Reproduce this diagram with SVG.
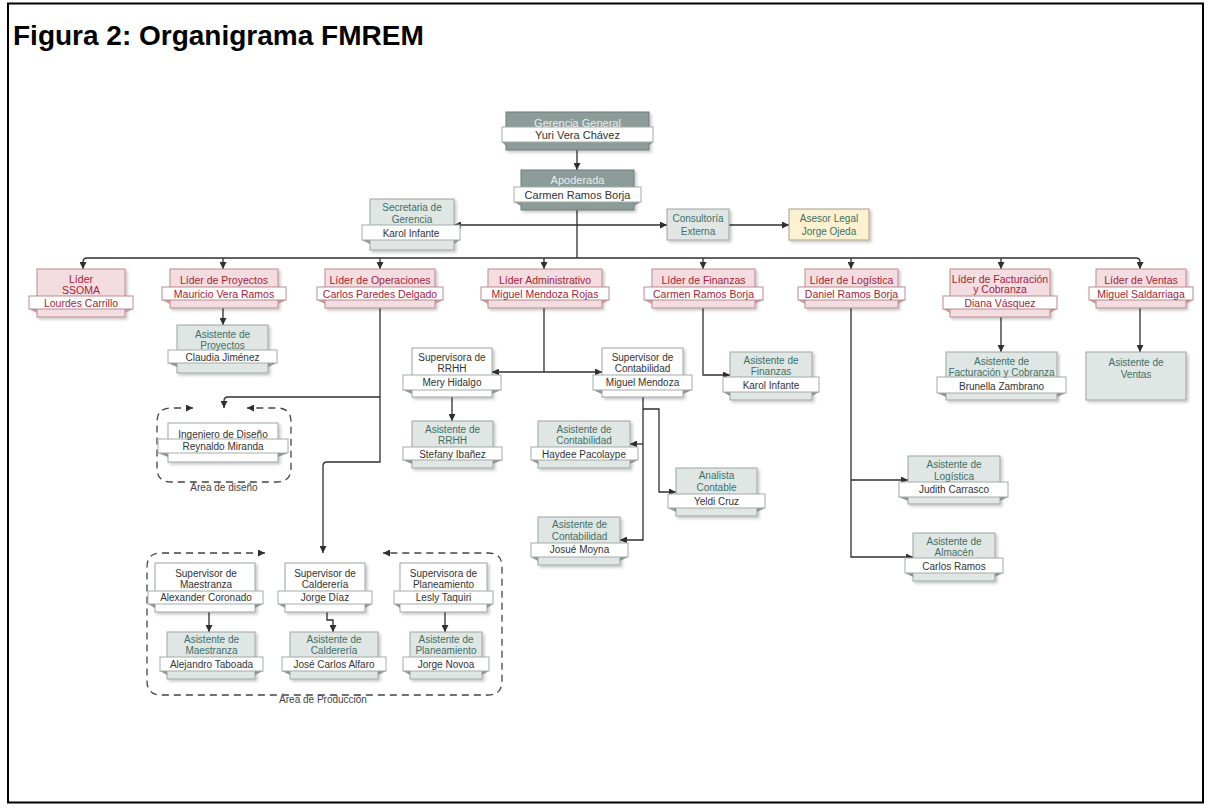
<svg xmlns="http://www.w3.org/2000/svg" width="1208" height="808" viewBox="0 0 1208 808">
<defs>
<style>
text{font-family:"Liberation Sans",Arial,sans-serif;font-size:10px;text-anchor:middle;fill:#333}
.title{font-size:28px;font-weight:bold;text-anchor:start;fill:#000}
.box{stroke-width:1;filter:url(#sh)}
.ban{fill:#fff;stroke:#a3aca8;stroke-width:1}
.fold{fill:#8e9592}
.top .box{fill:#8c9c98;stroke:#6e7d79}
.top .h{fill:#e8eeec;font-size:11px}
.top .n{font-size:11px}
.lead .box{fill:#f4dde0;stroke:#b98a90}
.lead .ban{stroke:#b98a90}
.lead .fold{fill:#c79aa0}
.lead text{fill:#a3243a;font-size:10.5px}
.asst .box{fill:#dfe6e3;stroke:#9ca6a2}
.asst .h{fill:#3e7068}
.sup .box{fill:#fff;stroke:#9ca6a2}
.legal .box{fill:#fcf1d0;stroke:#aaa088}
.legal .h{fill:#3e7068}
.lbl{fill:#444}
.con{fill:none;stroke:#2f2f2f;stroke-width:1.3}
.dash{fill:none;stroke:#444;stroke-width:1.3;stroke-dasharray:7 5}
</style>
<filter id="sh" x="-10%" y="-10%" width="130%" height="140%">
<feDropShadow dx="2" dy="2" stdDeviation="1.5" flood-color="#000" flood-opacity="0.22"/>
</filter>
<marker id="ar" viewBox="0 0 10 10" refX="10" refY="5" markerWidth="7" markerHeight="7" markerUnits="userSpaceOnUse" orient="auto-start-reverse">
<path d="M0,0 L10,5 L0,10 z" fill="#2f2f2f"/>
</marker>
</defs>

<rect x="8" y="3.5" width="1195" height="799" fill="#fff" stroke="#000" stroke-width="2"/>
<text class="title" x="13" y="45">Figura 2: Organigrama FMREM</text>

<g id="connectors" class="con">
<path d="M577,150 V170" marker-end="url(#ar)"/>
<path d="M577,210 V258"/>
<path d="M577,225 H454" marker-end="url(#ar)"/>
<path d="M577,225 H667" marker-end="url(#ar)"/>
<path d="M729,225 H789" marker-end="url(#ar)"/>
<path d="M83,269 V262 Q83,258 87,258 H1136 Q1140,258 1140,262 V269" marker-start="url(#ar)" marker-end="url(#ar)"/>
<path d="M223,258 V269" marker-end="url(#ar)"/>
<path d="M380,258 V269" marker-end="url(#ar)"/>
<path d="M544,258 V269" marker-end="url(#ar)"/>
<path d="M703,258 V269" marker-end="url(#ar)"/>
<path d="M851,258 V269" marker-end="url(#ar)"/>
<path d="M1001,258 V269" marker-end="url(#ar)"/>
<path d="M223,308 V325" marker-end="url(#ar)"/>
<path d="M380,308 V462 H327 Q323,462 323,466 V553" marker-end="url(#ar)"/>
<path d="M380,397 H228 Q224,397 224,401 V408" marker-end="url(#ar)"/>
<path d="M544,308 V372"/>
<path d="M544,372 H492" marker-end="url(#ar)"/>
<path d="M544,372 H602" marker-end="url(#ar)"/>
<path d="M452,397 V421" marker-end="url(#ar)"/>
<path d="M643,397 V540 H620" marker-end="url(#ar)"/>
<path d="M643,444 H630" marker-end="url(#ar)"/>
<path d="M643,409 H659 V492 H676" marker-end="url(#ar)"/>
<path d="M703,308 V375 H730" marker-end="url(#ar)"/>
<path d="M851,308 V557 H913" marker-end="url(#ar)"/>
<path d="M851,480 H908" marker-end="url(#ar)"/>
<path d="M1001,317 V352" marker-end="url(#ar)"/>
<path d="M1140,308 V352" marker-end="url(#ar)"/>
<path d="M209,612 V632" marker-end="url(#ar)"/>
<path d="M327,612 V620 H333 V632" marker-end="url(#ar)"/>
<path d="M445,612 V632" marker-end="url(#ar)"/>
</g>

<g id="areas">
<path class="dash" d="M193,408 H171 Q157,408 157,422 V468 Q157,482 171,482 H277 Q291,482 291,468 V422 Q291,408 277,408 H247" marker-start="url(#ar)" marker-end="url(#ar)"/>
<text class="lbl" x="224" y="491">Área de diseño</text>
<path class="dash" d="M265,553 H161 Q147,553 147,567 V681 Q147,695 161,695 H488 Q502,695 502,681 V567 Q502,553 488,553 H383" marker-start="url(#ar)" marker-end="url(#ar)"/>
<text class="lbl" x="323" y="703">Área de Producción</text>
</g>

<g id="gerencia" class="top">
<rect class="box" x="506" y="112" width="143" height="38"/>
<polygon class="fold" points="502,142 506,142 506,146"/><polygon class="fold" points="653,142 649,142 649,146"/>
<rect class="ban" x="502" y="127" width="151" height="15"/>
<text class="h" x="577.5" y="126.5">Gerencia General</text>
<text class="n" x="577.5" y="138.5">Yuri Vera Chávez</text>
</g>

<g id="apoderada" class="top">
<rect class="box" x="521" y="170" width="113" height="40"/>
<polygon class="fold" points="514,202 521,202 521,206"/><polygon class="fold" points="641,202 634,202 634,206"/>
<rect class="ban" x="514" y="187" width="127" height="15"/>
<text class="h" x="577.5" y="184">Apoderada</text>
<text class="n" x="577.5" y="198.5">Carmen Ramos Borja</text>
</g>

<g id="secretaria" class="asst">
<rect class="box" x="370" y="199" width="84" height="51"/>
<polygon class="fold" points="362,240 370,240 370,244"/><polygon class="fold" points="460,240 454,240 454,244"/>
<rect class="ban" x="362" y="225" width="98" height="15"/>
<text class="h" x="412" y="211">Secretaria de</text>
<text class="h" x="412" y="223">Gerencia</text>
<text class="n" x="411" y="236.5">Karol Infante</text>
</g>

<g id="consultoria" class="asst">
<rect class="box" x="667" y="209" width="62" height="31"/>
<text class="h" x="698" y="221.5">Consultoría</text>
<text class="h" x="698" y="234.5">Externa</text>
</g>

<g id="asesor" class="legal">
<rect class="box" x="789" y="209" width="80" height="31"/>
<text class="h" x="829" y="221.5">Asesor Legal</text>
<text class="h" x="829" y="234.5">Jorge Ojeda</text>
</g>

<g id="lider-ssoma" class="lead">
<rect class="box" x="37" y="269" width="88" height="48"/>
<polygon class="fold" points="29,309 37,309 37,313"/><polygon class="fold" points="133,309 125,309 125,313"/>
<rect class="ban" x="29" y="296" width="104" height="13"/>
<text class="h" x="81" y="282.5">Líder</text>
<text class="h" x="81" y="293.5">SSOMA</text>
<text class="n" x="81" y="306.5">Lourdes Carrillo</text>
</g>

<g id="lider-proyectos" class="lead">
<rect class="box" x="170" y="269" width="108" height="39"/>
<polygon class="fold" points="162,300 170,300 170,304"/><polygon class="fold" points="286,300 278,300 278,304"/>
<rect class="ban" x="162" y="287" width="124" height="13"/>
<text class="h" x="224" y="284">Líder de Proyectos</text>
<text class="n" x="224" y="297.5">Mauricio Vera Ramos</text>
</g>

<g id="lider-operaciones" class="lead">
<rect class="box" x="325" y="269" width="110" height="39"/>
<polygon class="fold" points="317,300 325,300 325,304"/><polygon class="fold" points="443,300 435,300 435,304"/>
<rect class="ban" x="317" y="287" width="126" height="13"/>
<text class="h" x="380" y="284">Líder de Operaciones</text>
<text class="n" x="380" y="297.5">Carlos Paredes Delgado</text>
</g>

<g id="lider-administrativo" class="lead">
<rect class="box" x="488" y="269" width="114" height="39"/>
<polygon class="fold" points="481,300 488,300 488,304"/><polygon class="fold" points="609,300 602,300 602,304"/>
<rect class="ban" x="481" y="287" width="128" height="13"/>
<text class="h" x="545" y="284">Líder Administrativo</text>
<text class="n" x="545" y="297.5">Miguel Mendoza Rojas</text>
</g>

<g id="lider-finanzas" class="lead">
<rect class="box" x="652" y="269" width="103" height="39"/>
<polygon class="fold" points="644,300 652,300 652,304"/><polygon class="fold" points="763,300 755,300 755,304"/>
<rect class="ban" x="644" y="287" width="119" height="13"/>
<text class="h" x="703.5" y="284">Líder de Finanzas</text>
<text class="n" x="703.5" y="297.5">Carmen Ramos Borja</text>
</g>

<g id="lider-logistica" class="lead">
<rect class="box" x="805" y="269" width="93" height="39"/>
<polygon class="fold" points="798,300 805,300 805,304"/><polygon class="fold" points="905,300 898,300 898,304"/>
<rect class="ban" x="798" y="287" width="107" height="13"/>
<text class="h" x="851.5" y="284">Líder de Logística</text>
<text class="n" x="851.5" y="297.5">Daniel Ramos Borja</text>
</g>

<g id="lider-facturacion" class="lead">
<rect class="box" x="950" y="269" width="100" height="48"/>
<polygon class="fold" points="943,309 950,309 950,313"/><polygon class="fold" points="1057,309 1050,309 1050,313"/>
<rect class="ban" x="943" y="296" width="114" height="13"/>
<text class="h" x="1000" y="282.5">Líder de Facturación</text>
<text class="h" x="1000" y="293">y Cobranza</text>
<text class="n" x="1000" y="306.5">Diana Vásquez</text>
</g>

<g id="lider-ventas" class="lead">
<rect class="box" x="1096" y="269" width="90" height="39"/>
<polygon class="fold" points="1089,300 1096,300 1096,304"/><polygon class="fold" points="1193,300 1186,300 1186,304"/>
<rect class="ban" x="1089" y="287" width="104" height="13"/>
<text class="h" x="1141" y="284">Líder de Ventas</text>
<text class="n" x="1141" y="297.5">Miguel Saldarriaga</text>
</g>

<g id="asist-proyectos" class="asst">
<rect class="box" x="177" y="325" width="91" height="48"/>
<polygon class="fold" points="168,363 177,363 177,367"/><polygon class="fold" points="277,363 268,363 268,367"/>
<rect class="ban" x="168" y="350" width="109" height="13"/>
<text class="h" x="222.5" y="337.5">Asistente de</text>
<text class="h" x="222.5" y="348.5">Proyectos</text>
<text class="n" x="222.5" y="360.5">Claudia Jiménez</text>
</g>

<g id="ing-diseno" class="sup">
<rect class="box" x="168" y="423" width="110" height="39"/>
<polygon class="fold" points="158,453 168,453 168,457"/><polygon class="fold" points="288,453 278,453 278,457"/>
<rect class="ban" x="158" y="439" width="130" height="14"/>
<text class="h" x="223" y="437.5">Ingeniero de Diseño</text>
<text class="n" x="223" y="449.5">Reynaldo Miranda</text>
</g>

<g id="sup-rrhh" class="sup">
<rect class="box" x="412" y="348" width="80" height="49"/>
<polygon class="fold" points="403,390 412,390 412,394"/><polygon class="fold" points="501,390 492,390 492,394"/>
<rect class="ban" x="403" y="375" width="98" height="15"/>
<text class="h" x="452" y="360.5">Supervisora de</text>
<text class="h" x="452" y="371.5">RRHH</text>
<text class="n" x="452" y="386">Mery Hidalgo</text>
</g>

<g id="sup-contabilidad" class="sup">
<rect class="box" x="602" y="348" width="81" height="49"/>
<polygon class="fold" points="593,390 602,390 602,394"/><polygon class="fold" points="692,390 683,390 683,394"/>
<rect class="ban" x="593" y="375" width="99" height="15"/>
<text class="h" x="642.5" y="360.5">Supervisor de</text>
<text class="h" x="642.5" y="371.5">Contabilidad</text>
<text class="n" x="642.5" y="386">Miguel Mendoza</text>
</g>

<g id="asist-rrhh" class="asst">
<rect class="box" x="412" y="421" width="81" height="47"/>
<polygon class="fold" points="403,460 412,460 412,464"/><polygon class="fold" points="502,460 493,460 493,464"/>
<rect class="ban" x="403" y="447" width="99" height="13"/>
<text class="h" x="452.5" y="432.5">Asistente de</text>
<text class="h" x="452.5" y="443.5">RRHH</text>
<text class="n" x="452.5" y="457.5">Stefany Ibañez</text>
</g>

<g id="asist-contab-1" class="asst">
<rect class="box" x="538" y="421" width="92" height="47"/>
<polygon class="fold" points="531,460 538,460 538,464"/><polygon class="fold" points="638,460 630,460 630,464"/>
<rect class="ban" x="531" y="447" width="107" height="13"/>
<text class="h" x="584" y="432.5">Asistente de</text>
<text class="h" x="584" y="443.5">Contabilidad</text>
<text class="n" x="584" y="457.5">Haydee Pacolaype</text>
</g>

<g id="analista" class="asst">
<rect class="box" x="676" y="468" width="81" height="48"/>
<polygon class="fold" points="668,508 676,508 676,512"/><polygon class="fold" points="765,508 757,508 757,512"/>
<rect class="ban" x="668" y="494" width="97" height="14"/>
<text class="h" x="716.5" y="478.5">Analista</text>
<text class="h" x="716.5" y="490.5">Contable</text>
<text class="n" x="716.5" y="504.5">Yeldi Cruz</text>
</g>

<g id="asist-contab-2" class="asst">
<rect class="box" x="538" y="517" width="82" height="48"/>
<polygon class="fold" points="531,557 538,557 538,561"/><polygon class="fold" points="628,557 620,557 620,561"/>
<rect class="ban" x="531" y="543" width="97" height="14"/>
<text class="h" x="579.5" y="527.5">Asistente de</text>
<text class="h" x="579.5" y="539.5">Contabilidad</text>
<text class="n" x="579.5" y="553">Josué Moyna</text>
</g>

<g id="asist-finanzas" class="asst">
<rect class="box" x="730" y="352" width="82" height="48"/>
<polygon class="fold" points="723,392 730,392 730,396"/><polygon class="fold" points="819,392 812,392 812,396"/>
<rect class="ban" x="723" y="377" width="96" height="15"/>
<text class="h" x="771" y="363.5">Asistente de</text>
<text class="h" x="771" y="375">Finanzas</text>
<text class="n" x="771" y="388.5">Karol Infante</text>
</g>

<g id="asist-facturacion" class="asst">
<rect class="box" x="946" y="352" width="111" height="48"/>
<polygon class="fold" points="937,393 946,393 946,397"/><polygon class="fold" points="1066,393 1057,393 1057,397"/>
<rect class="ban" x="937" y="377" width="129" height="16"/>
<text class="h" x="1001.5" y="364.5">Asistente de</text>
<text class="h" x="1001.5" y="375.5">Facturación y Cobranza</text>
<text class="n" x="1001.5" y="389.5">Brunella Zambrano</text>
</g>

<g id="asist-ventas" class="asst">
<rect class="box" x="1086" y="352" width="100" height="48"/>
<text class="h" x="1136" y="365.5">Asistente de</text>
<text class="h" x="1136" y="377.5">Ventas</text>
</g>

<g id="asist-logistica" class="asst">
<rect class="box" x="908" y="456" width="92" height="48"/>
<polygon class="fold" points="899,497 908,497 908,501"/><polygon class="fold" points="1008,497 1000,497 1000,501"/>
<rect class="ban" x="899" y="482" width="109" height="15"/>
<text class="h" x="954" y="467.5">Asistente de</text>
<text class="h" x="954" y="479.5">Logística</text>
<text class="n" x="954" y="493">Judith Carrasco</text>
</g>

<g id="asist-almacen" class="asst">
<rect class="box" x="913" y="533" width="82" height="48"/>
<polygon class="fold" points="905,573 913,573 913,577"/><polygon class="fold" points="1003,573 995,573 995,577"/>
<rect class="ban" x="905" y="558" width="98" height="15"/>
<text class="h" x="954" y="544.5">Asistente de</text>
<text class="h" x="954" y="555.5">Almacén</text>
<text class="n" x="954" y="569.5">Carlos Ramos</text>
</g>

<g id="sup-maestranza" class="sup">
<rect class="box" x="155" y="563" width="100" height="49"/>
<polygon class="fold" points="148,604 155,604 155,608"/><polygon class="fold" points="263,604 255,604 255,608"/>
<rect class="ban" x="148" y="591" width="115" height="13"/>
<text class="h" x="206" y="576.5">Supervisor de</text>
<text class="h" x="206" y="588">Maestranza</text>
<text class="n" x="206" y="601">Alexander Coronado</text>
</g>

<g id="asist-maestranza" class="asst">
<rect class="box" x="167" y="632" width="88" height="47"/>
<polygon class="fold" points="160,671 167,671 167,675"/><polygon class="fold" points="263,671 255,671 255,675"/>
<rect class="ban" x="160" y="657" width="103" height="14"/>
<text class="h" x="211.5" y="642.5">Asistente de</text>
<text class="h" x="211.5" y="654">Maestranza</text>
<text class="n" x="211.5" y="667.5">Alejandro Taboada</text>
</g>

<g id="sup-caldereria" class="sup">
<rect class="box" x="285" y="563" width="80" height="49"/>
<polygon class="fold" points="278,604 285,604 285,608"/><polygon class="fold" points="372,604 365,604 365,608"/>
<rect class="ban" x="278" y="591" width="94" height="13"/>
<text class="h" x="325" y="576.5">Supervisor de</text>
<text class="h" x="325" y="588">Calderería</text>
<text class="n" x="325" y="601">Jorge Díaz</text>
</g>

<g id="asist-caldereria" class="asst">
<rect class="box" x="290" y="632" width="88" height="47"/>
<polygon class="fold" points="282,671 290,671 290,675"/><polygon class="fold" points="386,671 378,671 378,675"/>
<rect class="ban" x="282" y="657" width="104" height="14"/>
<text class="h" x="334" y="642.5">Asistente de</text>
<text class="h" x="334" y="654">Calderería</text>
<text class="n" x="334" y="667.5">José Carlos Alfaro</text>
</g>

<g id="sup-planeamiento" class="sup">
<rect class="box" x="400" y="563" width="87" height="49"/>
<polygon class="fold" points="394,604 400,604 400,608"/><polygon class="fold" points="493,604 487,604 487,608"/>
<rect class="ban" x="394" y="591" width="99" height="13"/>
<text class="h" x="443.5" y="576.5">Supervisora de</text>
<text class="h" x="443.5" y="588">Planeamiento</text>
<text class="n" x="443.5" y="601">Lesly Taquiri</text>
</g>

<g id="asist-planeamiento" class="asst">
<rect class="box" x="410" y="632" width="72" height="47"/>
<polygon class="fold" points="403,671 410,671 410,675"/><polygon class="fold" points="489,671 482,671 482,675"/>
<rect class="ban" x="403" y="657" width="86" height="14"/>
<text class="h" x="446" y="642.5">Asistente de</text>
<text class="h" x="446" y="654">Planeamiento</text>
<text class="n" x="446" y="667.5">Jorge Novoa</text>
</g>
</svg>
